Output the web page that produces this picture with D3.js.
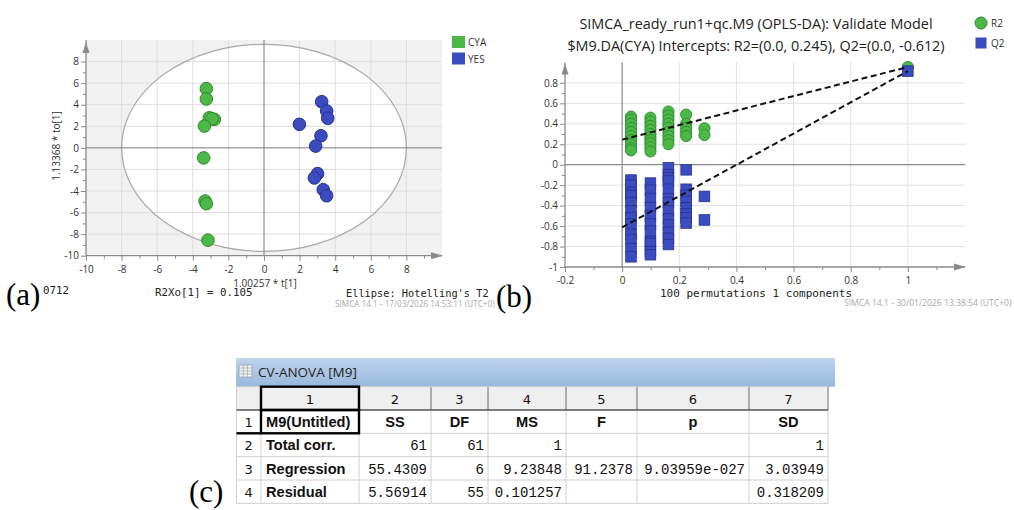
<!DOCTYPE html>
<html><head><meta charset="utf-8">
<script src="https://cdn.jsdelivr.net/npm/d3@7"></script>
<style>body{margin:0;background:#fff;}svg{display:block;}</style>
</head><body>
<script>
// ---------- DATA ----------
// Panel (a): OPLS-DA score plot
const cyaX = [-3.24, -3.24, -3.07, -2.79, -2.92, -3.35, -3.39, -3.31, -3.24, -3.15];
const cyaY = [5.49, 4.53, 2.79, 2.64, 2.70, 2.02, -0.93, -4.93, -5.18, -8.56];
const yesX = [3.24, 3.52, 3.58, 1.99, 3.20, 2.90, 3.01, 2.83, 3.33, 3.52];
const yesY = [4.28, 3.42, 2.74, 2.18, 1.12, 0.16, -2.39, -2.79, -3.88, -4.44];
const scoreTicks = [-10, -8, -6, -4, -2, 0, 2, 4, 6, 8];
const legendA = ["CYA", "YES"];
// Panel (b): permutation test
const permCols = [0.031, 0.099, 0.162, 0.224, 0.288];
const r2Perm = [
  [0.47, 0.44, 0.40, 0.36, 0.32, 0.28, 0.24, 0.20, 0.16, 0.14],
  [0.46, 0.42, 0.38, 0.34, 0.30, 0.27, 0.24, 0.21, 0.17, 0.13],
  [0.52, 0.48, 0.44, 0.40, 0.36, 0.32, 0.28, 0.24, 0.20],
  [0.49, 0.40, 0.36, 0.32, 0.28],
  [0.356, 0.29]
];
const q2Perm = [
  [-0.15, -0.20, -0.27, -0.30, -0.37, -0.45, -0.52, -0.58, -0.68, -0.73, -0.82, -0.90],
  [-0.18, -0.25, -0.33, -0.42, -0.50, -0.58, -0.65, -0.75, -0.77, -0.85, -0.88],
  [-0.03, -0.10, -0.13, -0.16, -0.24, -0.33, -0.37, -0.45, -0.53, -0.59, -0.66, -0.72, -0.78],
  [-0.05, -0.24, -0.30, -0.36, -0.42, -0.48, -0.52, -0.57],
  [-0.31, -0.54]
];
const r2Final = 0.955, q2Final = 0.915;
const r2Intercept = 0.245, q2Intercept = -0.612;
const permXTicks = [-0.2, 0, 0.2, 0.4, 0.6, 0.8, 1];
const permYTicks = [-1, -0.8, -0.6, -0.4, -0.2, 0, 0.2, 0.4, 0.6, 0.8];
const legendB = ["R2", "Q2"];
const titleB = ["SIMCA_ready_run1+qc.M9 (OPLS-DA): Validate Model",
                "$M9.DA(CYA) Intercepts: R2=(0.0, 0.245), Q2=(0.0, -0.612)"];
// Panel (c): CV-ANOVA table
const tableTitle = "CV-ANOVA [M9]";
const tableColNums = ["1", "2", "3", "4", "5", "6", "7"];
const tableHeader = ["M9(Untitled)", "SS", "DF", "MS", "F", "p", "SD"];
const tableRowLabels = ["Total corr.", "Regression", "Residual"];
const tableSS = ["61", "55.4309", "5.56914"];
const tableDF = ["61", "6", "55"];
const tableMS = ["1", "9.23848", "0.101257"];
const tableF  = ["", "91.2378", ""];
const tableP  = ["", "9.03959e-027", ""];
const tableSD = ["1", "3.03949", "0.318209"];

// ---------- SETUP ----------
const W = 1014, H = 510;
const svg = d3.select("body").append("svg").attr("width", W).attr("height", H);
const SANS = "'Open Sans', 'Noto Sans', sans-serif";
const MONO = "'DejaVu Sans Mono', 'Liberation Mono', monospace";
const BOLD = "'Liberation Sans', Arial, sans-serif";
const green = "#4cb848", greenS = "#2e8a2e", blue = "#3b4cc0", blueS = "#26338f";
const fmt = d => String(+(+d).toFixed(1));

function arrowUp(g, x, y) {
  g.append("path").attr("d", `M${x},${y} L${x-3.5},${y+11} L${x+3.5},${y+11} Z`).attr("fill", "#8a8a8a");
}
function arrowRight(g, x, y) {
  g.append("path").attr("d", `M${x},${y} L${x-12},${y-3.5} L${x-12},${y+3.5} Z`).attr("fill", "#8a8a8a");
}
function styleAxis(g, size) {
  g.select(".domain").remove();
  g.selectAll(".tick line").attr("stroke", "#8a8a8a");
  g.selectAll(".tick text").attr("fill", "#333").style("font-family", SANS).style("font-size", size + "px");
}

// ---------- PANEL A ----------
const xA = d3.scaleLinear().domain([-10, 10]).range([86, 442]);
const yA = d3.scaleLinear().domain([-10, 10]).range([255.7, 40]);
const gA = svg.append("g");
gA.append("rect").attr("x", xA(-10)).attr("y", yA(10)).attr("width", xA(10) - xA(-10))
  .attr("height", yA(-10) - yA(10)).attr("fill", "#f1f1f1");
gA.append("ellipse").attr("cx", xA(0)).attr("cy", yA(0)).attr("rx", xA(8) - xA(0))
  .attr("ry", yA(0) - yA(9.6)).attr("fill", "#fff");
// grid
gA.append("g").selectAll("line").data(scoreTicks.filter(d => d !== -10 && d !== 0)).join("line")
  .attr("x1", d => xA(d)).attr("x2", d => xA(d)).attr("y1", yA(-10)).attr("y2", yA(10))
  .attr("stroke", "#dedede");
gA.append("g").selectAll("line").data(scoreTicks.filter(d => d !== -10 && d !== 0)).join("line")
  .attr("y1", d => yA(d)).attr("y2", d => yA(d)).attr("x1", xA(-10)).attr("x2", xA(10))
  .attr("stroke", "#dedede");
gA.append("ellipse").attr("cx", xA(0)).attr("cy", yA(0)).attr("rx", xA(8) - xA(0))
  .attr("ry", yA(0) - yA(9.6)).attr("fill", "none").attr("stroke", "#a8a8a8").attr("stroke-width", 1.2);
gA.append("line").attr("x1", xA(0)).attr("x2", xA(0)).attr("y1", yA(-10)).attr("y2", yA(10)).attr("stroke", "#7a7a7a");
gA.append("line").attr("y1", yA(0)).attr("y2", yA(0)).attr("x1", xA(-10)).attr("x2", xA(10)).attr("stroke", "#7a7a7a");
// axes
const axLA = gA.append("g").attr("transform", `translate(${xA(-10)},0)`)
  .call(d3.axisLeft(yA).tickValues(scoreTicks).tickSize(5).tickPadding(2).tickFormat(d => String(d)));
styleAxis(axLA, 10);
const axLAm = gA.append("g").attr("transform", `translate(${xA(-10)},0)`)
  .call(d3.axisLeft(yA).tickValues(d3.range(-9, 10, 2)).tickSize(3).tickFormat(""));
styleAxis(axLAm, 10);
const axBA = gA.append("g").attr("transform", `translate(0,${yA(-10)})`)
  .call(d3.axisBottom(xA).tickValues(scoreTicks).tickSize(5).tickPadding(5).tickFormat(d => String(d)));
styleAxis(axBA, 10);
const axBAm = gA.append("g").attr("transform", `translate(0,${yA(-10)})`)
  .call(d3.axisBottom(xA).tickValues(d3.range(-9, 10, 2)).tickSize(3).tickFormat(""));
styleAxis(axBAm, 10);
gA.append("line").attr("x1", xA(-10)).attr("x2", xA(-10)).attr("y1", yA(-10)).attr("y2", yA(10)).attr("stroke", "#8a8a8a").attr("stroke-width", 1.3);
gA.append("line").attr("x1", xA(-10)).attr("x2", xA(10)).attr("y1", yA(-10)).attr("y2", yA(-10)).attr("stroke", "#8a8a8a").attr("stroke-width", 1.3);
arrowUp(gA, xA(-10), yA(10) + 2);
arrowRight(gA, xA(10) + 1, yA(-10));
// points
gA.append("g").selectAll("circle").data(cyaX.map((x, i) => [x, cyaY[i]])).join("circle")
  .attr("cx", d => xA(d[0])).attr("cy", d => yA(d[1])).attr("r", 6.3)
  .attr("fill", green).attr("stroke", greenS).attr("stroke-width", 1);
gA.append("g").selectAll("circle").data(yesX.map((x, i) => [x, yesY[i]])).join("circle")
  .attr("cx", d => xA(d[0])).attr("cy", d => yA(d[1])).attr("r", 6.3)
  .attr("fill", blue).attr("stroke", blueS).attr("stroke-width", 1);
// legend
legendA.forEach((t, i) => {
  gA.append("rect").attr("x", 452).attr("y", 36 + i * 16.5).attr("width", 13).attr("height", 12)
    .attr("fill", i === 0 ? green : blue);
  gA.append("text").attr("x", 468).attr("y", 46 + i * 16.5).text(t)
    .style("font-family", SANS).style("font-size", "10px").attr("fill", "#333");
});
// labels
gA.append("text").attr("transform", `translate(60,146) rotate(-90)`).attr("text-anchor", "middle")
  .text("1.13368 * to[1]").style("font-family", SANS).style("font-size", "10px").attr("fill", "#333");
gA.append("text").attr("x", 265).attr("y", 287).attr("text-anchor", "middle")
  .text("1.00257 * t[1]").style("font-family", SANS).style("font-size", "10px").attr("fill", "#333");
gA.append("text").attr("x", 155).attr("y", 296).text("R2Xo[1] = 0.105")
  .style("font-family", MONO).style("font-size", "10.8px").attr("fill", "#222");
gA.append("text").attr("x", 43).attr("y", 294).text("0712")
  .style("font-family", MONO).style("font-size", "10.8px").attr("fill", "#222");
gA.append("text").attr("x", 346).attr("y", 297).text("Ellipse: Hotelling's T2")
  .style("font-family", MONO).style("font-size", "10.3px").attr("fill", "#222");
gA.append("text").attr("x", 335).attr("y", 306.5).text("SIMCA 14.1 - 17/03/2026 14:53:11 (UTC+0)")
  .style("font-family", SANS).style("font-size", "8.2px").attr("fill", "#aaa");
svg.append("text").attr("x", 6).attr("y", 305).text("(a)")
  .style("font-family", "'Liberation Serif', serif").style("font-size", "31px").attr("fill", "#000");

// ---------- PANEL B ----------
const xB = d3.scaleLinear().domain([-0.2, 1.2]).range([565, 965]);
const yB = d3.scaleLinear().domain([-1, 1]).range([267, 62.4]);
const gB = svg.append("g");
gB.append("g").selectAll("line").data(permXTicks.filter(d => d > -0.2 && d !== 0)).join("line")
  .attr("x1", d => xB(d)).attr("x2", d => xB(d)).attr("y1", yB(-1)).attr("y2", yB(1))
  .attr("stroke", "#e2e2e2");
gB.append("g").selectAll("line").data(permYTicks.filter(d => d > -1 && d !== 0)).join("line")
  .attr("y1", d => yB(d)).attr("y2", d => yB(d)).attr("x1", xB(-0.2)).attr("x2", xB(1.2))
  .attr("stroke", "#e2e2e2");
gB.append("line").attr("x1", xB(0)).attr("x2", xB(0)).attr("y1", yB(-1)).attr("y2", yB(1)).attr("stroke", "#8a8a8a").attr("stroke-width", 1.2);
gB.append("line").attr("y1", yB(0)).attr("y2", yB(0)).attr("x1", xB(-0.2)).attr("x2", xB(1.2)).attr("stroke", "#8a8a8a").attr("stroke-width", 1.2);
const axLB = gB.append("g").attr("transform", `translate(${xB(-0.2)},0)`)
  .call(d3.axisLeft(yB).tickValues(permYTicks).tickSize(5).tickPadding(2).tickFormat(fmt));
styleAxis(axLB, 10);
const axLBm = gB.append("g").attr("transform", `translate(${xB(-0.2)},0)`)
  .call(d3.axisLeft(yB).tickValues(d3.range(-0.9, 1, 0.2)).tickSize(3).tickFormat(""));
styleAxis(axLBm, 10);
const axBB = gB.append("g").attr("transform", `translate(0,${yB(-1)})`)
  .call(d3.axisBottom(xB).tickValues(permXTicks).tickSize(5).tickPadding(5).tickFormat(fmt));
styleAxis(axBB, 10);
const axBBm = gB.append("g").attr("transform", `translate(0,${yB(-1)})`)
  .call(d3.axisBottom(xB).tickValues(d3.range(-0.1, 1.2, 0.2)).tickSize(3).tickFormat(""));
styleAxis(axBBm, 10);
gB.append("line").attr("x1", xB(-0.2)).attr("x2", xB(-0.2)).attr("y1", yB(-1)).attr("y2", yB(1)).attr("stroke", "#8a8a8a").attr("stroke-width", 1.3);
gB.append("line").attr("x1", xB(-0.2)).attr("x2", xB(1.2)).attr("y1", yB(-1)).attr("y2", yB(-1)).attr("stroke", "#8a8a8a").attr("stroke-width", 1.3);
arrowUp(gB, xB(-0.2), yB(1) + 1);
arrowRight(gB, xB(1.2) + 1, yB(-1));
// R2 permutation circles
const r2Pts = [];
r2Perm.forEach((col, i) => col.forEach(v => r2Pts.push([permCols[i], v])));
r2Pts.push([1, r2Final]);
gB.append("g").selectAll("circle").data(r2Pts).join("circle")
  .attr("cx", d => xB(d[0])).attr("cy", d => yB(d[1])).attr("r", 5.6)
  .attr("fill", green).attr("stroke", greenS).attr("stroke-width", 0.9);
const q2Pts = [];
q2Perm.forEach((col, i) => col.forEach(v => q2Pts.push([permCols[i], v])));
q2Pts.push([1, q2Final]);
gB.append("g").selectAll("rect").data(q2Pts).join("rect")
  .attr("x", d => xB(d[0]) - 5.3).attr("y", d => yB(d[1]) - 5.3).attr("width", 10.6).attr("height", 10.6)
  .attr("fill", blue).attr("stroke", blueS).attr("stroke-width", 0.8);
// dashed regression lines
gB.append("line").attr("x1", xB(0)).attr("y1", yB(r2Intercept)).attr("x2", xB(1)).attr("y2", yB(r2Final))
  .attr("stroke", "#111").attr("stroke-width", 2).attr("stroke-dasharray", "6,3.5");
gB.append("line").attr("x1", xB(0)).attr("y1", yB(q2Intercept)).attr("x2", xB(1)).attr("y2", yB(q2Final))
  .attr("stroke", "#111").attr("stroke-width", 2).attr("stroke-dasharray", "6,3.5");
// title
titleB.forEach((t, i) => {
  gB.append("text").attr("x", 756).attr("y", 29 + i * 22).attr("text-anchor", "middle").text(t)
    .style("font-family", SANS).style("font-size", "14.4px").attr("fill", "#222");
});
// legend
gB.append("circle").attr("cx", 981).attr("cy", 23).attr("r", 6).attr("fill", green).attr("stroke", greenS);
gB.append("rect").attr("x", 975.5).attr("y", 37.5).attr("width", 11).attr("height", 11).attr("fill", blue);
legendB.forEach((t, i) => {
  gB.append("text").attr("x", 991).attr("y", 27 + i * 20).text(t)
    .style("font-family", SANS).style("font-size", "10px").attr("fill", "#333");
});
gB.append("text").attr("x", 756).attr("y", 297).attr("text-anchor", "middle").text("100 permutations 1 components")
  .style("font-family", MONO).style("font-size", "11px").attr("fill", "#222");
gB.append("text").attr("x", 844).attr("y", 306).text("SIMCA 14.1 - 30/01/2026 13:38:54 (UTC+0)")
  .style("font-family", SANS).style("font-size", "8.6px").attr("fill", "#aaa");
svg.append("text").attr("x", 496).attr("y", 307).text("(b)")
  .style("font-family", "'Liberation Serif', serif").style("font-size", "31px").attr("fill", "#000");

// ---------- PANEL C (table) ----------
const gC = svg.append("g");
const colX = [236.5, 261, 359, 431, 488, 566, 637, 749, 828];
const rowY = [386.7, 410, 433.3, 456.7, 480, 503.3];
const defs = svg.append("defs");
const grad = defs.append("linearGradient").attr("id", "bar").attr("x1", 0).attr("x2", 0).attr("y1", 0).attr("y2", 1);
grad.append("stop").attr("offset", "0%").attr("stop-color", "#bfd4ec");
grad.append("stop").attr("offset", "100%").attr("stop-color", "#98b7dc");
gC.append("rect").attr("x", 236).attr("y", 358).attr("width", 599).attr("height", 28.7).attr("fill", "url(#bar)");
// icon
const ic = gC.append("g").attr("transform", "translate(239,365)");
ic.append("rect").attr("width", 13).attr("height", 12).attr("fill", "#f4f4f4").attr("stroke", "#9aa4b0").attr("stroke-width", 0.8);
[3, 6, 9].forEach(y => ic.append("line").attr("x1", 0).attr("x2", 13).attr("y1", y).attr("y2", y).attr("stroke", "#9aa4b0").attr("stroke-width", 0.7));
[4.3, 8.6].forEach(x => ic.append("line").attr("x1", x).attr("x2", x).attr("y1", 0).attr("y2", 12).attr("stroke", "#9aa4b0").attr("stroke-width", 0.7));
gC.append("text").attr("x", 258).attr("y", 377).text(tableTitle)
  .style("font-family", SANS).style("font-size", "13.5px").attr("fill", "#222");
// header row bg
gC.append("rect").attr("x", colX[0]).attr("y", rowY[0]).attr("width", colX[8] - colX[0]).attr("height", rowY[1] - rowY[0]).attr("fill", "#efefef");
gC.append("rect").attr("x", colX[0]).attr("y", rowY[1]).attr("width", colX[8] - colX[0]).attr("height", rowY[5] - rowY[1]).attr("fill", "#fff");
// grid lines
colX.forEach((x, i) => {
  gC.append("line").attr("x1", x).attr("x2", x).attr("y1", rowY[1]).attr("y2", rowY[5]).attr("stroke", "#cfcfcf");
  gC.append("line").attr("x1", x).attr("x2", x).attr("y1", rowY[0]).attr("y2", rowY[1]).attr("stroke", i === 0 ? "#cfcfcf" : "#6a6a6a");
});
rowY.forEach((y, i) => {
  gC.append("line").attr("x1", colX[0]).attr("x2", colX[8]).attr("y1", y).attr("y2", y)
    .attr("stroke", i === 1 ? "#555" : "#cfcfcf").attr("stroke-width", i === 1 ? 1.3 : 1);
});
// text
const cellTxt = (x, y, t, anchor, font, size, weight) =>
  gC.append("text").attr("x", x).attr("y", y).attr("text-anchor", anchor).text(t)
    .style("font-family", font).style("font-size", size + "px").style("font-weight", weight).attr("fill", "#111");
tableColNums.forEach((t, i) => cellTxt((colX[i + 1] + colX[i + 2]) / 2, rowY[0] + 17, t, "middle", "'DejaVu Sans', sans-serif", 13, "normal"));
[1, 2, 3, 4].forEach((t, i) => cellTxt((colX[0] + colX[1]) / 2, rowY[i + 1] + 17, String(t), "middle", "'DejaVu Sans', sans-serif", 13, "normal"));
tableHeader.forEach((t, i) => {
  if (i === 0) cellTxt(colX[1] + 5, rowY[1] + 17, t, "start", BOLD, 14.6, "bold");
  else cellTxt((colX[i + 1] + colX[i + 2]) / 2, rowY[1] + 17, t, "middle", BOLD, 14.6, "bold");
});
const cols = [tableSS, tableDF, tableMS, tableF, tableP, tableSD];
tableRowLabels.forEach((lab, r) => {
  const y = rowY[r + 2] + 17;
  cellTxt(colX[1] + 5, y, lab, "start", BOLD, 14.6, "bold");
  cols.forEach((c, j) => { if (c[r]) cellTxt(colX[j + 3] - 4, y, c[r], "end", "'Liberation Mono', monospace", 14, "normal"); });
});
// selection borders
gC.append("rect").attr("x", colX[1]).attr("y", rowY[0]).attr("width", colX[2] - colX[1]).attr("height", rowY[1] - rowY[0])
  .attr("fill", "none").attr("stroke", "#000").attr("stroke-width", 2.4);
gC.append("rect").attr("x", colX[1]).attr("y", rowY[1]).attr("width", colX[2] - colX[1]).attr("height", rowY[2] - rowY[1])
  .attr("fill", "none").attr("stroke", "#000").attr("stroke-width", 2.4);
gC.append("line").attr("x1", colX[0]).attr("x2", colX[1]).attr("y1", rowY[2]).attr("y2", rowY[2]).attr("stroke", "#000").attr("stroke-width", 2.4);
svg.append("text").attr("x", 189).attr("y", 502).text("(c)")
  .style("font-family", "'Liberation Serif', serif").style("font-size", "31px").attr("fill", "#000");
</script>
</body></html>
